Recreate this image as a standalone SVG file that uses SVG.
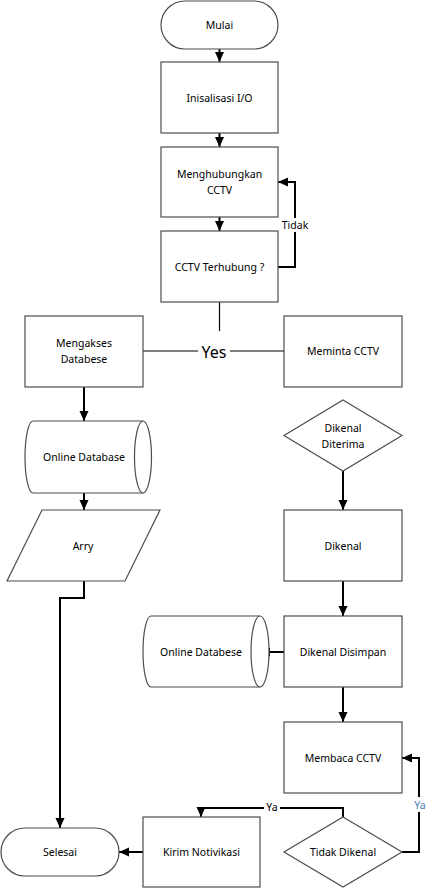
<svg xmlns="http://www.w3.org/2000/svg" width="434" height="890" viewBox="0 0 434 890">
<style>
.s{fill:#fff;stroke:#4d4d4d;stroke-width:1.2}
.t{font-family:"Noto Sans","Liberation Sans",sans-serif;font-size:10.5px;fill:#000;text-anchor:middle;dominant-baseline:central}
.c{fill:none;stroke:#000;stroke-width:2}
.th{fill:none;stroke:#000;stroke-width:1.2}
</style>
<defs>
<marker id="a" markerWidth="10" markerHeight="10" viewBox="0 0 10 10" refX="10" refY="5" orient="auto" markerUnits="userSpaceOnUse">
<path d="M0,0.5 L10,5 L0,9.5 Z" fill="#000"/>
</marker>
</defs>
<rect width="434" height="890" fill="#fff"/>
<g id="connectors">
<path class="c" d="M219.5,49 V62" marker-end="url(#a)"/>
<path class="c" d="M219.5,133 V147" marker-end="url(#a)"/>
<path class="c" d="M219.5,217 V231" marker-end="url(#a)"/>
<path class="c" d="M278,267 H295 V182 H278" marker-end="url(#a)"/>
<path class="th" d="M219.5,302 V331"/>
<path class="th" d="M143,351 H284"/>
<path class="c" d="M84,387 V421" marker-end="url(#a)"/>
<path class="c" d="M84,493 V510" marker-end="url(#a)"/>
<path class="c" d="M84,581 V598 H60 V828" marker-end="url(#a)"/>
<path class="c" d="M143,852 H119" marker-end="url(#a)"/>
<path class="c" d="M343,471 V510" marker-end="url(#a)"/>
<path class="c" d="M343,581 V616" marker-end="url(#a)"/>
<path class="c" d="M284,652 H260" marker-end="url(#a)"/>
<path class="c" d="M343,687 V722" marker-end="url(#a)"/>
<path class="c" d="M402,852 H419 V758 H402" marker-end="url(#a)"/>
<path class="c" d="M343,817 V808 H201 V817" marker-end="url(#a)"/>
<rect x="279" y="218" width="32" height="14" fill="#fff"/>
<text class="t" x="295" y="225">Tidak</text>
<rect x="198" y="340" width="32" height="22" fill="#fff"/>
<text class="t" x="214" y="352" style="font-size:16px">Yes</text>
<rect x="264" y="801" width="16" height="14" fill="#fff"/>
<text class="t" x="272" y="807">Ya</text>
<rect x="412" y="797" width="16" height="15" fill="#fff"/>
<text class="t" x="420" y="805" style="fill:#4a7ebb">Ya</text>
</g>
<g id="mulai">
<rect class="s" x="161" y="1" width="117" height="48" rx="24" ry="24"/>
<text class="t" x="219.5" y="25">Mulai</text>
</g>
<g id="inisialisasi">
<rect class="s" x="161" y="62" width="117" height="71"/>
<text class="t" x="219.5" y="98">Inisalisasi I/O</text>
</g>
<g id="menghubungkan">
<rect class="s" x="161" y="147" width="117" height="70"/>
<text class="t" x="219.5" y="174">Menghubungkan</text>
<text class="t" x="219.5" y="190">CCTV</text>
</g>
<g id="terhubung">
<rect class="s" x="161" y="231" width="117" height="71"/>
<text class="t" x="219.5" y="267">CCTV Terhubung ?</text>
</g>
<g id="mengakses">
<rect class="s" x="25" y="316" width="118" height="71"/>
<text class="t" x="84" y="343">Mengakses</text>
<text class="t" x="84" y="359">Databese</text>
</g>
<g id="meminta">
<rect class="s" x="284" y="316" width="118" height="71"/>
<text class="t" x="343" y="351">Meminta CCTV</text>
</g>
<g id="onlinedb1">
<path class="s" d="M33,421 H143 A8.5,36 0 0 1 143,493 H33 A8,36 0 0 1 33,421 Z"/>
<path class="s" d="M143,421 A8.5,36 0 0 0 143,493" fill="none"/>
<text class="t" x="84" y="457">Online Database</text>
</g>
<g id="arry">
<polygon class="s" points="42,510 160,510 125,581 7,581"/>
<text class="t" x="83" y="546">Arry</text>
</g>
<g id="diterima">
<polygon class="s" points="343,400 402,435.5 343,471 284,435.5"/>
<text class="t" x="343" y="428">Dikenal</text>
<text class="t" x="343" y="444">Diterima</text>
</g>
<g id="dikenal">
<rect class="s" x="284" y="510" width="118" height="71"/>
<text class="t" x="343" y="546">Dikenal</text>
</g>
<g id="disimpan">
<rect class="s" x="284" y="616" width="118" height="71"/>
<text class="t" x="343" y="652">Dikenal Disimpan</text>
</g>
<g id="onlinedb2">
<path class="s" d="M151,616 H260 A9,35.5 0 0 1 260,687 H151 A8,35.5 0 0 1 151,616 Z"/>
<path class="s" d="M260,616 A9,35.5 0 0 0 260,687" fill="none"/>
<text class="t" x="201" y="652">Online Databese</text>
</g>
<g id="membaca">
<rect class="s" x="284" y="722" width="118" height="71"/>
<text class="t" x="343" y="758">Membaca CCTV</text>
</g>
<g id="tidakdikenal">
<polygon class="s" points="343,817 402,852 343,887 284,852"/>
<text class="t" x="343" y="852">Tidak Dikenal</text>
</g>
<g id="kirim">
<rect class="s" x="143" y="817" width="117" height="70"/>
<text class="t" x="201.5" y="852">Kirim Notivikasi</text>
</g>
<g id="selesai">
<rect class="s" x="1" y="828" width="118" height="48" rx="24" ry="24"/>
<text class="t" x="60" y="852">Selesai</text>
</g>
</svg>
